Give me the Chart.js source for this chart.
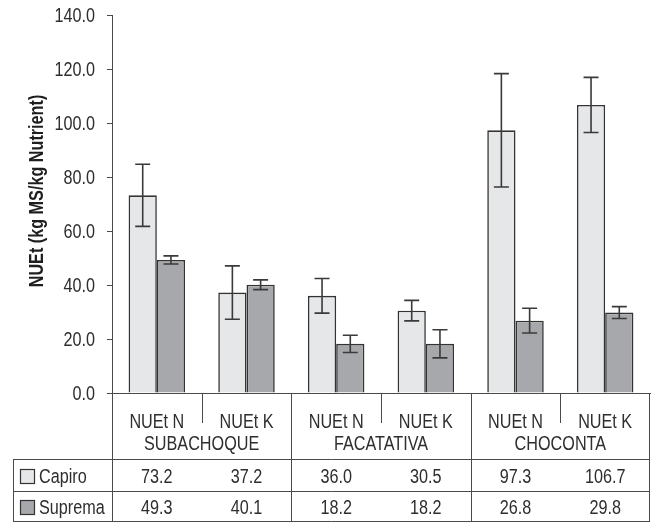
<!DOCTYPE html>
<html>
<head>
<meta charset="utf-8">
<script src="https://cdn.jsdelivr.net/npm/chart.js@4.4.1/dist/chart.umd.min.js"></script>
<style>
  html, body { margin: 0; padding: 0; background: #ffffff; }
  #wrap { width: 652px; height: 523px; position: relative; }
</style>
</head>
<body>
<div id="wrap"><canvas id="c" width="652" height="523"></canvas></div>
<script>
// Categories, grouped by site
const categories = ['NUEt N', 'NUEt K', 'NUEt N', 'NUEt K', 'NUEt N', 'NUEt K'];
const sites = ['SUBACHOQUE', 'FACATATIVA', 'CHOCONTA'];
const seriesNames = ['Capiro', 'Suprema'];

// Mean values (kg MS / kg nutrient)
const capiro = [73.2, 37.2, 36.0, 30.5, 97.3, 106.7];
const suprema = [49.3, 40.1, 18.2, 18.2, 26.8, 29.8];

// Error bar half-widths
const capiroErr = [11.5, 9.9, 6.4, 3.8, 21.0, 10.2];
const supremaErr = [1.5, 1.8, 3.2, 5.2, 4.6, 2.2];

// Y-axis ticks
const yTicks = [0, 20, 40, 60, 80, 100, 120, 140];

const FONT = "'Liberation Sans', Arial, sans-serif";
const SX = 0.81;           // horizontal squeeze for a condensed look
const LINE = '#4a4a4a';
const TEXT = '#2e2e2e';
const FILL_A = '#e6e7e9';
const FILL_B = '#a7a8ab';

// draw condensed text; (x, y) is the anchor, y is the cap-height centre
function narrowText(ctx, str, x, y, align) {
  ctx.save();
  ctx.translate(x, y + 7.2);
  ctx.scale(SX, 1);
  ctx.textAlign = align;
  ctx.textBaseline = 'alphabetic';
  ctx.fillText(str, 0, 0);
  ctx.restore();
}

const errorBars = {
  id: 'errorBars',
  afterDatasetsDraw(chart) {
    const ctx = chart.ctx;
    const y = chart.scales.y;
    const errs = [capiroErr, supremaErr];
    ctx.save();
    ctx.strokeStyle = '#3a3a3a';
    ctx.lineWidth = 1.6;
    chart.data.datasets.forEach((ds, di) => {
      const meta = chart.getDatasetMeta(di);
      meta.data.forEach((bar, i) => {
        const v = ds.data[i], e = errs[di][i];
        const yt = y.getPixelForValue(v + e);
        const yb = y.getPixelForValue(v - e);
        const x = bar.x, cap = 7.5;
        ctx.beginPath();
        ctx.moveTo(x, yt); ctx.lineTo(x, yb);
        ctx.moveTo(x - cap, yt); ctx.lineTo(x + cap, yt);
        ctx.moveTo(x - cap, yb); ctx.lineTo(x + cap, yb);
        ctx.stroke();
      });
    });
    ctx.restore();
  }
};

const axisAndTable = {
  id: 'axisAndTable',
  afterDraw(chart) {
    const ctx = chart.ctx;
    const area = chart.chartArea;
    const x = chart.scales.x;
    const ys = chart.scales.y;
    const left = area.left, right = area.right, base = area.bottom;
    const n = categories.length;
    const cw = (right - left) / n;
    const tableLeft = 13;
    const rowTop = 459, rowMid = 491, rowBot = 521;
    const bound = k => Math.round(left + k * cw) + 0.5;

    ctx.save();
    ctx.strokeStyle = LINE;
    ctx.lineWidth = 1;
    ctx.beginPath();
    // axis continues down through the table
    ctx.moveTo(left + 0.5, base); ctx.lineTo(left + 0.5, rowBot + 1);
    // category / site separators
    for (let k = 1; k <= n; k++) {
      const bx = k === n ? Math.round(right) - 0.5 : bound(k);
      ctx.moveTo(bx, base);
      ctx.lineTo(bx, k % 2 === 0 ? rowBot + 1 : 423);
    }
    // table rows
    [rowTop, rowMid, rowBot].forEach(ry => {
      const yy = ry + 0.5;
      ctx.moveTo(tableLeft, yy); ctx.lineTo(Math.round(right), yy);
    });
    ctx.moveTo(tableLeft + 0.5, rowTop); ctx.lineTo(tableLeft + 0.5, rowBot + 1);
    ctx.stroke();

    ctx.fillStyle = TEXT;
    ctx.font = '20px ' + FONT;

    // y tick labels
    yTicks.forEach(v => {
      narrowText(ctx, v.toFixed(1), 95, ys.getPixelForValue(v), 'right');
    });

    // category and site labels
    categories.forEach((c, i) => {
      narrowText(ctx, c, x.getPixelForValue(i), 421, 'center');
    });
    sites.forEach((s, g) => {
      narrowText(ctx, s, left + (2 * g + 1) * cw, 443, 'center');
    });

    // value rows
    const rows = [capiro, suprema];
    const rowY = [476, 507];
    const fills = [FILL_A, FILL_B];
    rows.forEach((vals, r) => {
      vals.forEach((v, i) => {
        narrowText(ctx, v.toFixed(1), x.getPixelForValue(i), rowY[r], 'center');
      });
    });

    // legend keys inside the table
    seriesNames.forEach((name, r) => {
      const by = Math.round(rowY[r] - 7.5) + 0.5;
      ctx.fillStyle = fills[r];
      ctx.fillRect(20.5, by, 14, 14);
      ctx.strokeStyle = '#333';
      ctx.lineWidth = 1.2;
      ctx.strokeRect(20.5, by, 14, 14);
      ctx.fillStyle = TEXT;
      narrowText(ctx, name, 39, rowY[r], 'left');
    });

    // y-axis title
    ctx.translate(36, 191);
    ctx.rotate(-Math.PI / 2);
    ctx.font = 'bold 20px ' + FONT;
    ctx.fillStyle = '#1e1e1e';
    narrowText(ctx, 'NUEt (kg MS/kg Nutrient)', 0, 0, 'center');
    ctx.restore();
  }
};

new Chart(document.getElementById('c'), {
  type: 'bar',
  data: {
    labels: categories,
    datasets: [
      { label: seriesNames[0], data: capiro, backgroundColor: FILL_A, borderColor: '#333', borderWidth: 1.6 },
      { label: seriesNames[1], data: suprema, backgroundColor: FILL_B, borderColor: '#333', borderWidth: 1.6 }
    ]
  },
  options: {
    responsive: false,
    animation: false,
    devicePixelRatio: 1,
    layout: { padding: { top: 15, right: 2, left: 0, bottom: 0 } },
    plugins: { legend: { display: false }, tooltip: { enabled: false } },
    datasets: { bar: { categoryPercentage: 0.63, barPercentage: 1.0 } },
    scales: {
      x: {
        grid: { display: false },
        border: { display: true, color: LINE, width: 1 },
        ticks: { display: false },
        afterFit(s) { s.height = 130; }
      },
      y: {
        min: 0,
        max: 140,
        afterBuildTicks(s) { s.ticks = yTicks.map(v => ({ value: v })); },
        ticks: { display: false },
        grid: { drawOnChartArea: false, drawTicks: true, tickLength: 5, color: LINE },
        border: { display: true, color: LINE, width: 1 },
        afterFit(s) { s.width = 112; }
      }
    }
  },
  plugins: [errorBars, axisAndTable]
});
</script>
</body>
</html>
